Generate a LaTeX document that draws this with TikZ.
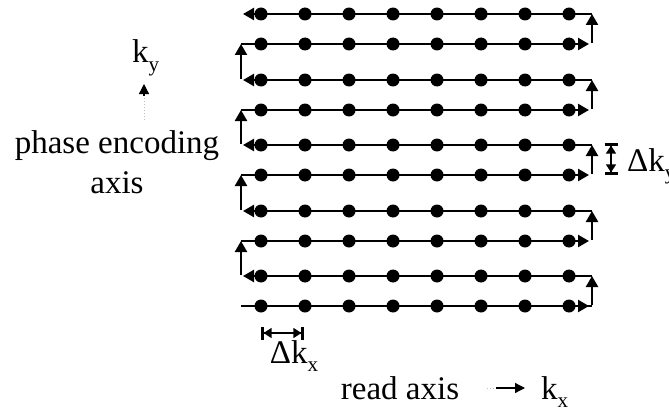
\documentclass[tikz,border=0pt]{standalone}
\usepackage{fontspec}
\setmainfont{Liberation Serif}
\usetikzlibrary{arrows.meta}
\tikzset{
  traj/.style={line width=2.4pt, -{Triangle[length=11pt,width=12pt]}},
  plain/.style={line width=2.4pt},
  sample/.style={circle, fill=black, inner sep=0pt, minimum size=13pt},
  lbl/.style={font=\fontsize{33}{38}\selectfont, inner sep=0pt},
  dim/.style={line width=1.4pt, {Bar[width=13pt,line width=2.6pt]Triangle[length=8pt,width=10pt]}-{Triangle[length=8pt,width=10pt]Bar[width=13pt,line width=2.6pt]}},
  axisarrow/.style={line width=1.2pt, -{Triangle[length=10pt,width=10pt]}}
}
\newcommand{\ksub}[2]{k\raisebox{-0.25em}{\fontsize{21}{22}\selectfont #2}}
\begin{document}
\begin{tikzpicture}[x=1pt,y=-1pt]
\useasboundingbox (0,0) rectangle (669,412);
% row y positions, bottom (0) to top (9)
\foreach \r/\yy in {0/306,1/276,2/241,3/211,4/175,5/145,6/110,7/80,8/44,9/14}{
  \coordinate (L\r) at (241,\yy);
  \coordinate (R\r) at (592,\yy);
}
% horizontal sweeps
\draw[plain] (L0) -- (R0);
\draw[traj] ([xshift=-20pt]R0) -- ([xshift=-3pt]R0);
\foreach \r in {2,4,6,8}{
  \draw[traj] (L\r) -- ([xshift=-3pt]R\r);
}
\foreach \r in {1,3,5,7,9}{
  \draw[traj] (R\r) -- ([xshift=2pt]L\r);
}
% right turns (up)
\foreach \a/\b in {0/1,2/3,4/5,6/7,8/9}{
  \draw[traj] ([yshift=1.2pt]R\a) -- (R\b);
}
% left turns (up)
\foreach \a/\b in {1/2,3/4,5/6,7/8}{
  \draw[traj] ([yshift=1.2pt]L\a) -- (L\b);
}
% sample points
\foreach \r/\yy in {0/306,1/276,2/241,3/211,4/175,5/145,6/110,7/80,8/44,9/14}{
  \foreach \c in {0,...,7}{
    \node[sample] (d\r-\c) at (261+44*\c,\yy) {};
  }
}
% delta k_y
\coordinate (dyA) at (611,175);
\coordinate (dyB) at (611,143);
\draw[dim] (dyA) -- (dyB);
\node[lbl, anchor=base west] (dky) at (627,171) {Δ\ksub{k}{y}};
% delta k_x
\coordinate (dxA) at (261,333);
\coordinate (dxB) at (304,333);
\draw[dim] (dxA) -- (dxB);
\node[lbl, anchor=base] (dkx) at (294,363) {Δ\ksub{k}{x}};
% k_y axis
\node[lbl, anchor=base west] (ky) at (132,63) {\ksub{k}{y}};
\coordinate (kyS) at (144,120);
\coordinate (kyE) at (144,84);
\draw[line width=1pt, gray!50, dotted] (kyS) -- (144,96);
\draw[axisarrow] (144,96) -- (kyE);
% phase encoding label
\node[lbl, align=center, anchor=base] (pe) at (117,193) {phase encoding\\[2pt]axis};
% read axis
\node[lbl, anchor=base] (ra) at (400,399) {read axis};
\coordinate (kxS) at (487,388);
\coordinate (kxE) at (525,388);
\draw[line width=1pt, gray!50, dotted] (kxS) -- (497,388);
\draw[axisarrow] (496,388) -- (kxE);
\node[lbl, anchor=base west] (kx) at (541,399) {\ksub{k}{x}};
\end{tikzpicture}
\end{document}
